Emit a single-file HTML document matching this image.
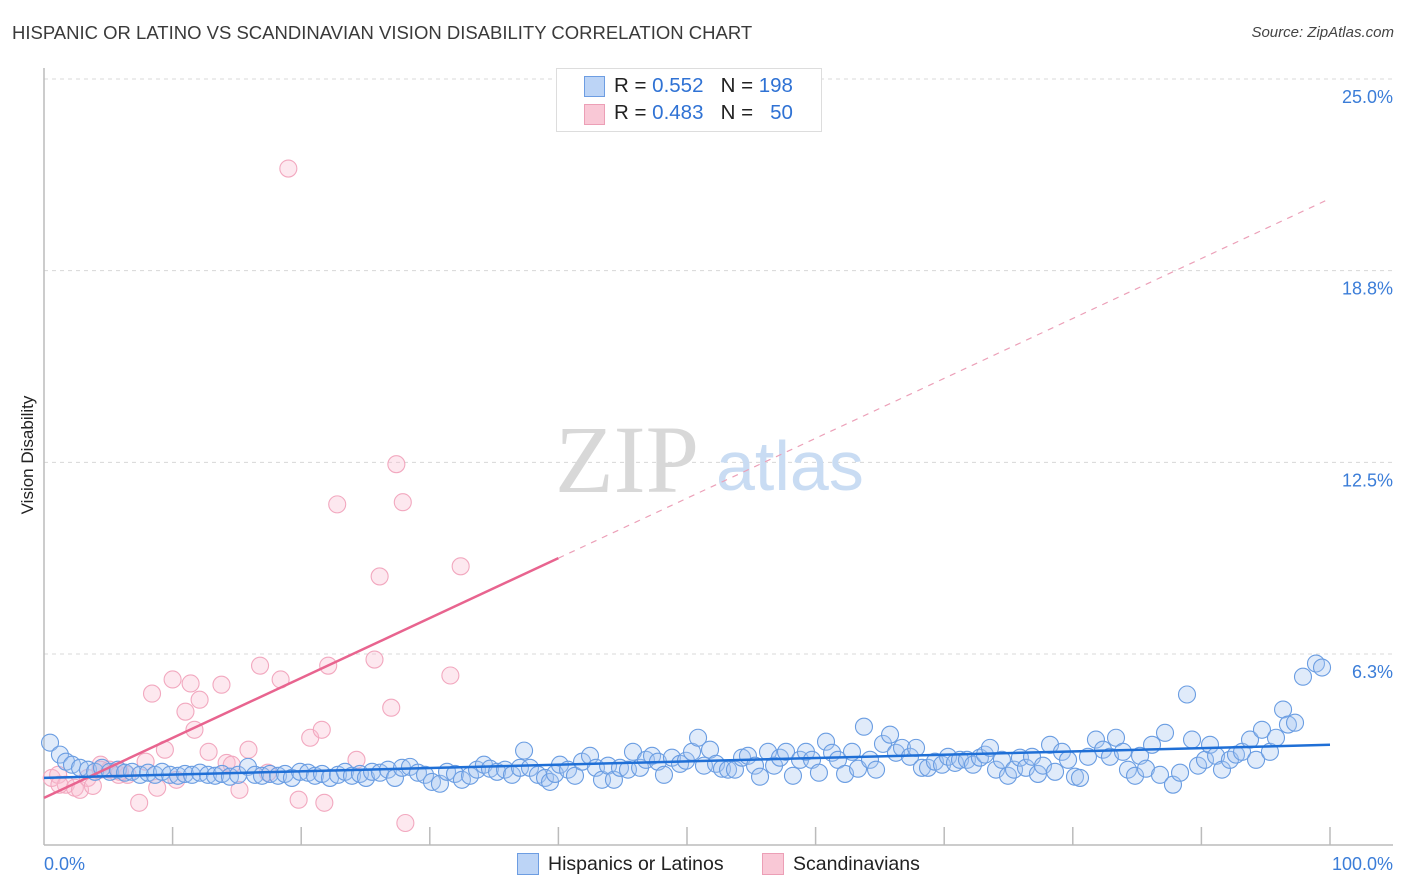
<!DOCTYPE html>
<html><head><meta charset="utf-8">
<style>
body{margin:0;background:#fff;font-family:"Liberation Sans",sans-serif;}
#wrap{position:relative;width:1406px;height:892px;overflow:hidden;}
.t{position:absolute;white-space:nowrap;}
</style></head>
<body>
<div id="wrap">
<div class="t" style="left:12px;top:22px;font-size:18.5px;color:#3a3a3a;">HISPANIC OR LATINO VS SCANDINAVIAN VISION DISABILITY CORRELATION CHART</div>
<div class="t" style="right:12px;top:24px;font-size:15px;color:#444;font-style:italic;">Source: ZipAtlas.com</div>
<div class="t" style="left:28px;top:455px;font-size:17px;color:#222;transform:translate(-50%,-50%) rotate(-90deg);">Vision Disability</div>
<svg id="svg" width="1406" height="892" style="position:absolute;left:0;top:0"></svg>
</div>
<script>
const yTicks=[6.25,12.5,18.75,25];
const yTickLabels=["6.3%","12.5%","18.8%","25.0%"];
const xTickCount=10;
const blueX=[0.47,1.24,1.71,2.18,2.80,3.42,3.97,4.51,5.13,5.75,6.30,6.84,7.47,8.09,8.63,9.18,9.80,10.42,10.96,11.51,12.13,12.75,13.30,13.84,14.46,15.09,15.86,16.41,16.95,17.57,18.20,18.74,19.28,19.91,20.53,21.07,21.62,22.24,22.86,23.41,23.95,24.57,25.04,25.51,26.13,26.75,27.29,27.84,28.46,29.08,29.63,30.17,30.79,31.34,31.96,32.50,33.13,33.67,34.21,34.68,35.23,35.85,36.39,37.01,37.33,37.79,38.41,38.96,39.35,39.74,40.12,40.75,41.29,41.84,42.46,42.92,43.39,43.86,44.32,44.79,45.41,45.80,46.35,46.81,47.28,47.74,48.21,48.83,49.46,49.92,50.39,50.86,51.32,51.79,52.26,52.72,53.19,53.73,54.28,54.74,55.29,55.68,56.30,56.77,57.23,57.70,58.24,58.79,59.25,59.72,60.26,60.81,61.28,61.74,62.29,62.83,63.30,63.76,64.23,64.70,65.24,65.79,66.25,66.72,67.34,67.81,68.27,68.74,69.28,69.83,70.30,70.84,71.23,71.77,72.24,72.78,73.17,73.56,74.03,74.49,74.96,75.43,75.89,76.36,76.83,77.29,77.68,78.23,78.62,79.16,79.63,80.17,80.56,81.18,81.80,82.35,82.89,83.36,83.90,84.29,84.84,85.23,85.69,86.16,86.78,87.17,87.79,88.34,88.88,89.27,89.74,90.28,90.67,91.14,91.60,92.22,92.69,93.16,93.78,94.25,94.71,95.33,95.80,96.35,96.73,97.28,97.90,98.91,99.38];
const blueY=[3.36,2.97,2.74,2.64,2.54,2.48,2.41,2.54,2.41,2.48,2.38,2.41,2.31,2.38,2.31,2.41,2.31,2.28,2.34,2.31,2.38,2.31,2.28,2.34,2.25,2.31,2.57,2.31,2.28,2.34,2.28,2.34,2.21,2.41,2.38,2.28,2.34,2.21,2.31,2.41,2.28,2.34,2.21,2.41,2.38,2.48,2.21,2.54,2.57,2.38,2.31,2.08,2.02,2.41,2.34,2.15,2.28,2.48,2.64,2.51,2.41,2.48,2.31,2.54,3.10,2.54,2.31,2.21,2.08,2.34,2.64,2.48,2.28,2.74,2.93,2.54,2.15,2.61,2.15,2.54,2.48,3.06,2.54,2.80,2.93,2.74,2.31,2.87,2.67,2.77,3.06,3.52,2.61,3.13,2.67,2.51,2.48,2.48,2.87,2.93,2.61,2.25,3.06,2.61,2.87,3.06,2.28,2.80,3.06,2.80,2.38,3.39,3.03,2.80,2.34,3.06,2.51,3.88,2.80,2.48,3.32,3.62,3.03,3.19,2.90,3.19,2.54,2.54,2.74,2.64,2.90,2.70,2.80,2.80,2.64,2.87,2.97,3.19,2.48,2.80,2.28,2.48,2.87,2.54,2.90,2.34,2.61,3.29,2.41,3.06,2.80,2.25,2.21,2.90,3.46,3.13,2.90,3.52,3.06,2.48,2.28,2.93,2.51,3.29,2.31,3.68,1.99,2.38,4.93,3.46,2.61,2.80,3.29,2.93,2.48,2.80,2.97,3.06,3.46,2.80,3.78,3.06,3.52,4.44,3.95,4.01,5.51,5.94,5.81];
const pinkX=[0.6,1.1,1.7,2.4,2.8,3.4,3.8,4.4,5.1,5.8,6.5,7.4,7.9,8.4,8.8,9.4,10.0,10.3,11.0,11.4,11.7,12.1,12.8,13.8,14.2,14.6,15.2,15.9,16.8,17.4,18.4,19.8,20.7,21.6,21.8,22.1,22.8,24.3,25.7,26.1,27.0,27.4,27.9,28.1,31.6,32.4,19.0,5.9,1.2,4.4];
const pinkY=[2.21,2.31,1.99,1.89,1.82,2.21,1.95,2.64,2.48,2.31,2.31,1.40,2.74,4.96,1.89,3.13,5.42,2.15,4.37,5.29,3.78,4.76,3.06,5.25,2.70,2.64,1.82,3.13,5.87,2.38,5.42,1.50,3.52,3.78,1.40,5.87,11.13,2.80,6.07,8.78,4.50,12.44,11.20,0.74,5.55,9.11,22.08,2.41,1.99,2.48];
const blueTrend=[2.21,3.29];
const pinkTrend=[1.56,21.1];
const pinkSolidEnd=40;

const NS="http://www.w3.org/2000/svg";
const svg=document.getElementById('svg');
const X0=44,X1=1330,Y0=845.7,YS=(845.7-79)/25;
const xs=v=>X0+(X1-X0)*v/100;
const ys=v=>Y0-v*YS;
function mk(tag,attrs){const e=document.createElementNS(NS,tag);for(const k in attrs)e.setAttribute(k,attrs[k]);svg.appendChild(e);return e;}

yTicks.forEach((t,i)=>{
  const g=mk('line',{x1:X0,x2:1393,y1:ys(t),y2:ys(t),stroke:'#d8d8d8','stroke-dasharray':'4,4','stroke-width':1});
  
  
  const tx=mk('text',{x:1393,y:ys(t)+24,'text-anchor':'end','font-size':18,fill:'#3b7dd8','font-family':'Liberation Sans, sans-serif'});
  tx.textContent=yTickLabels[i];
  
  
});
let a=mk('line',{x1:X0,x2:X0,y1:68,y2:845,stroke:'#bbb','stroke-width':1.5});


a=mk('line',{x1:X0,x2:1393,y1:845,y2:845,stroke:'#bbb','stroke-width':1.5});


for(let i=1;i<=xTickCount;i++){
  const tk=mk('line',{x1:xs(i*10),x2:xs(i*10),y1:827,y2:845,stroke:'#bbb','stroke-width':1.5});
  
  
}
let lx=mk('text',{x:44,y:870,'font-size':18,fill:'#3b7dd8','font-family':'Liberation Sans, sans-serif'});lx.textContent='0.0%';


lx=mk('text',{x:1393,y:870,'text-anchor':'end','font-size':18,fill:'#3b7dd8','font-family':'Liberation Sans, sans-serif'});lx.textContent='100.0%';



let w=mk('text',{x:555,y:492,'font-size':96,fill:'#d8d8d8','font-family':'Liberation Serif, serif'});w.textContent='ZIP';


w=mk('text',{x:716,y:490,'font-size':70,fill:'#c9dcf3','font-family':'Liberation Sans, sans-serif'});w.textContent='atlas';



pinkX.forEach((v,i)=>{
  const c=mk('circle',{cx:xs(v),cy:ys(pinkY[i]),r:8.5,fill:'rgba(248,190,208,0.35)',stroke:'#f2a8bf','stroke-width':1.1});
  
  
});
blueX.forEach((v,i)=>{
  const c=mk('circle',{cx:xs(v),cy:ys(blueY[i]),r:8.5,fill:'rgba(165,198,240,0.35)',stroke:'#6a9de2','stroke-width':1.1});
  
  
});
const pAt=x=>pinkTrend[0]+(pinkTrend[1]-pinkTrend[0])*x/100;
let l=mk('line',{x1:xs(0),y1:ys(pAt(0)),x2:xs(pinkSolidEnd),y2:ys(pAt(pinkSolidEnd)),stroke:'#e8648f','stroke-width':2.5});


l=mk('line',{x1:xs(pinkSolidEnd),y1:ys(pAt(pinkSolidEnd)),x2:xs(100),y2:ys(pAt(100)),stroke:'#eca0b8','stroke-width':1.2,'stroke-dasharray':'6,6'});


l=mk('line',{x1:xs(0),y1:ys(blueTrend[0]),x2:xs(100),y2:ys(blueTrend[1]),stroke:'#1f6fd6','stroke-width':2.5});


</script>
<div style="position:absolute;left:556px;top:68px;width:264px;height:62px;border:1px solid #ddd;background:#fff;font-size:20.5px;color:#222;">
  <div style="position:absolute;left:27px;top:7px;width:19px;height:19px;background:#bcd4f6;border:1px solid #6d9de2;"></div>
  <div class="t" style="left:57px;top:5px;">R = <span style="color:#2f72d4">0.552</span>&nbsp;&nbsp;&nbsp;N = <span style="color:#2f72d4">198</span></div>
  <div style="position:absolute;left:27px;top:35px;width:19px;height:19px;background:#f9c8d6;border:1px solid #ec9fb6;"></div>
  <div class="t" style="left:57px;top:32px;">R = <span style="color:#2f72d4">0.483</span>&nbsp;&nbsp;&nbsp;N = &nbsp;&nbsp;<span style="color:#2f72d4">50</span></div>
</div>
<div style="position:absolute;left:517px;top:853px;">
  <div style="position:absolute;left:0;top:0;width:20px;height:20px;background:#bcd4f6;border:1px solid #6d9de2;"></div>
  <div class="t" style="left:31px;top:0;font-size:19.5px;color:#222;">Hispanics or Latinos</div>
</div>
<div style="position:absolute;left:762px;top:853px;">
  <div style="position:absolute;left:0;top:0;width:20px;height:20px;background:#f9c8d6;border:1px solid #ec9fb6;"></div>
  <div class="t" style="left:31px;top:0;font-size:19.5px;color:#222;">Scandinavians</div>
</div>
</body></html>
